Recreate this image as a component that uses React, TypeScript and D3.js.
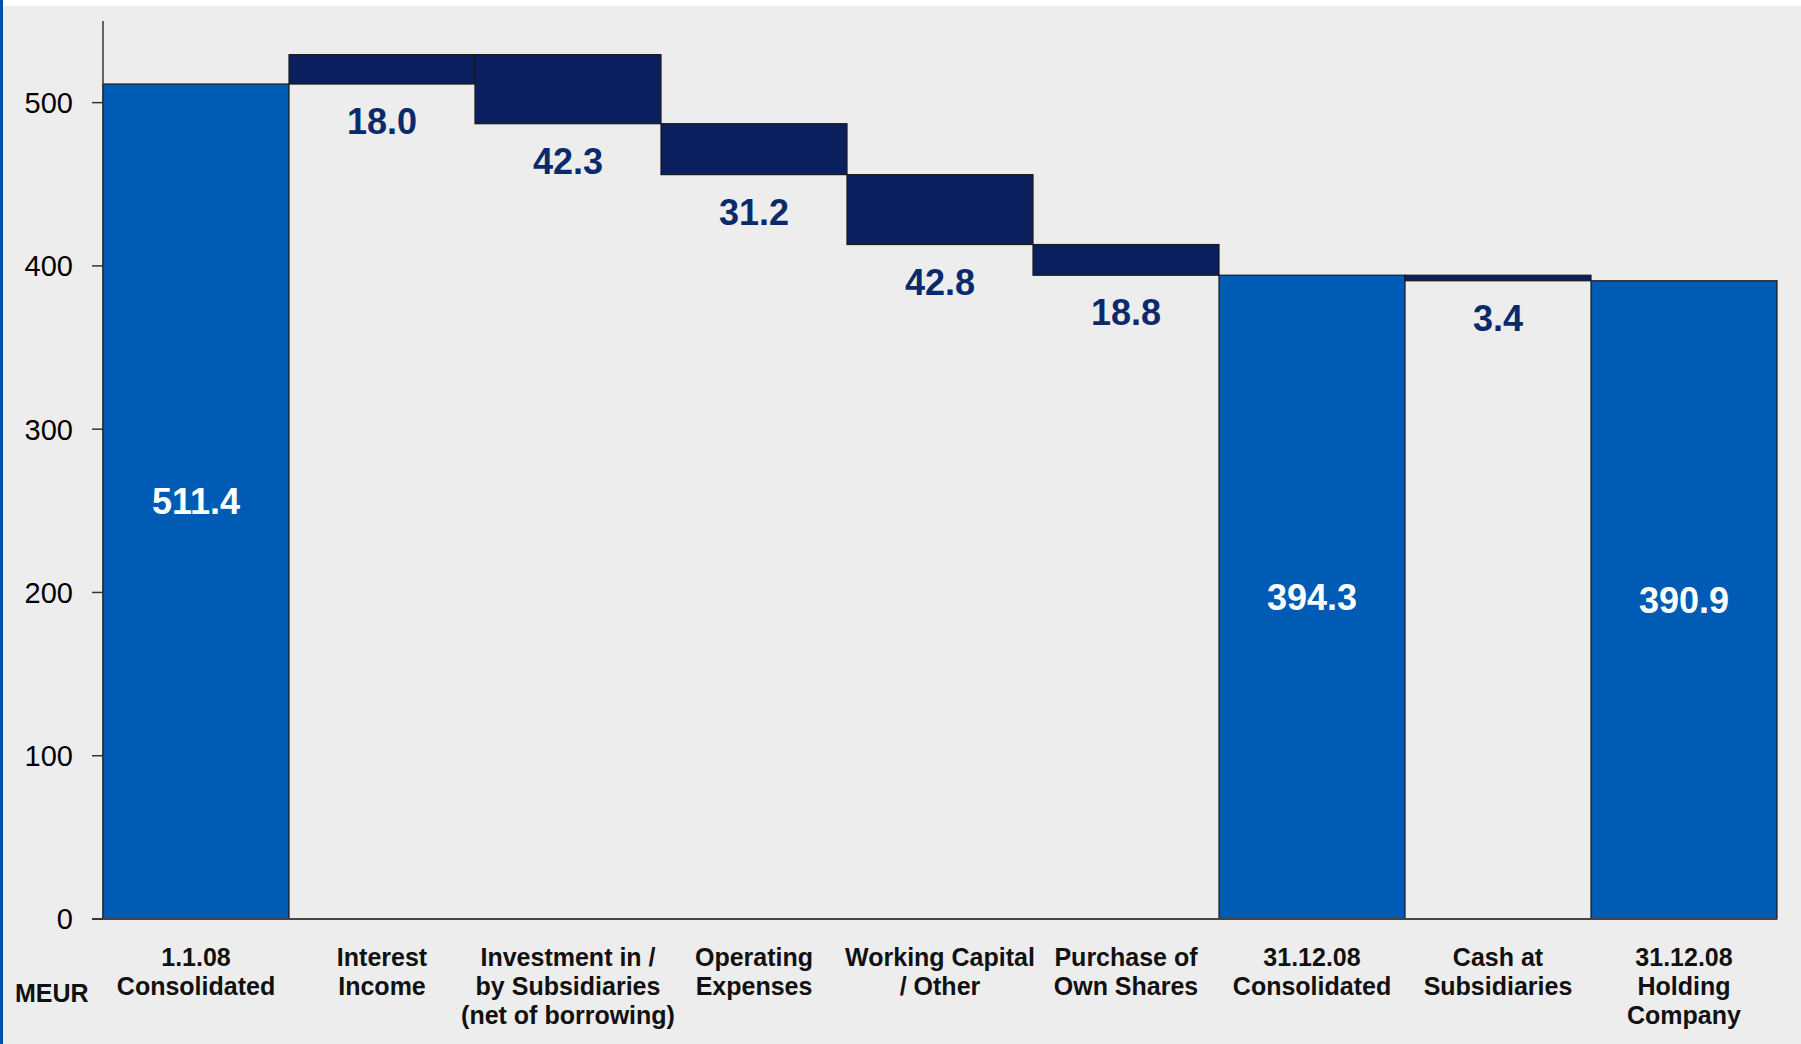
import React, { useEffect } from "react";
import * as d3 from "d3";

const categories: string[][] = [
  ["1.1.08", "Consolidated"],
  ["Interest", "Income"],
  ["Investment in /", "by Subsidiaries", "(net of borrowing)"],
  ["Operating", "Expenses"],
  ["Working Capital", "/ Other"],
  ["Purchase of", "Own Shares"],
  ["31.12.08", "Consolidated"],
  ["Cash at", "Subsidiaries"],
  ["31.12.08", "Holding", "Company"],
];
// kind: "total" bars start at 0; "delta" bars float
const kinds = ["total", "delta", "delta", "delta", "delta", "delta", "total", "delta", "total"];
const values = [511.4, 18.0, -42.3, -31.2, -42.8, -18.8, 394.3, -3.4, 390.9];
const yTicks = [0, 100, 200, 300, 400, 500];
const unitLabel = "MEUR";

const W = 1801;
const H = 1044;

export default function App() {
  useEffect(() => {
    document.body.style.margin = "0";
  }, []);

  const x = d3
    .scaleBand<number>()
    .domain(categories.map((_, i) => i))
    .range([103, 1777])
    .padding(0);
  const y = d3.scaleLinear().domain([0, 550]).range([919, 21]);

  // compute waterfall segments
  let running = 0;
  const segs = values.map((v, i) => {
    if (kinds[i] === "total") {
      running = v;
      return { i, lo: 0, hi: v, v, total: true };
    }
    const start = running;
    const end = running + v;
    running = end;
    return { i, lo: Math.min(start, end), hi: Math.max(start, end), v, total: false };
  });

  const font = "'Liberation Sans', Arial, Helvetica, sans-serif";

  return (
    <svg
      width={W}
      height={H}
      style={{ position: "absolute", left: 0, top: 0, display: "block" }}
      fontFamily={font}
    >
      <rect x={0} y={0} width={W} height={H} fill="#ECEDEC" />
      <rect x={0} y={0} width={W} height={6} fill="#FFFFFF" />
      <rect x={0} y={0} width={3} height={H} fill="#0050A4" />

      {/* bars */}
      {segs.map((s) => (
        <rect
          key={"b" + s.i}
          x={x(s.i)!}
          y={y(s.hi)}
          width={x.bandwidth()}
          height={y(s.lo) - y(s.hi)}
          fill={s.total ? "#005BB4" : "#0B1F5E"}
          stroke="#1A1A1A"
          strokeWidth={1.2}
        />
      ))}

      {/* axis */}
      <line x1={103} x2={103} y1={y(550)} y2={y(0)} stroke="#333" strokeWidth={1.5} />
      <line x1={92} x2={1777} y1={y(0)} y2={y(0)} stroke="#444" strokeWidth={1.8} />
      {yTicks.map((t) => (
        <g key={"t" + t}>
          <line x1={92} x2={103} y1={y(t)} y2={y(t)} stroke="#333" strokeWidth={1.5} />
          <text
            x={73}
            y={y(t)}
            dy="0.36em"
            textAnchor="end"
            fontSize={29}
            fill="#000"
          >
            {t}
          </text>
        </g>
      ))}

      {/* value labels */}
      {segs.map((s) => {
        const cx = x(s.i)! + x.bandwidth() / 2;
        if (s.total) {
          return (
            <text
              key={"v" + s.i}
              x={cx}
              y={y(s.hi / 2)}
              dy="0.36em"
              textAnchor="middle"
              fontSize={36}
              fontWeight="bold"
              fill="#FFFFFF"
            >
              {d3.format(".1f")(s.v)}
            </text>
          );
        }
        return (
          <text
            key={"v" + s.i}
            x={cx}
            y={y(s.lo) + 50}
            textAnchor="middle"
            fontSize={36}
            fontWeight="bold"
            fill="#0B2A6B"
          >
            {d3.format(".1f")(Math.abs(s.v))}
          </text>
        );
      })}

      {/* category labels */}
      {categories.map((lines, i) => (
        <text
          key={"c" + i}
          x={x(i)! + x.bandwidth() / 2}
          y={966}
          textAnchor="middle"
          fontSize={25}
          fontWeight="bold"
          fill="#111"
        >
          {lines.map((l, j) => (
            <tspan key={j} x={x(i)! + x.bandwidth() / 2} dy={j === 0 ? 0 : 29}>
              {l}
            </tspan>
          ))}
        </text>
      ))}

      <text x={15} y={1002} fontSize={25} fontWeight="bold" fill="#111">
        {unitLabel}
      </text>
    </svg>
  );
}
